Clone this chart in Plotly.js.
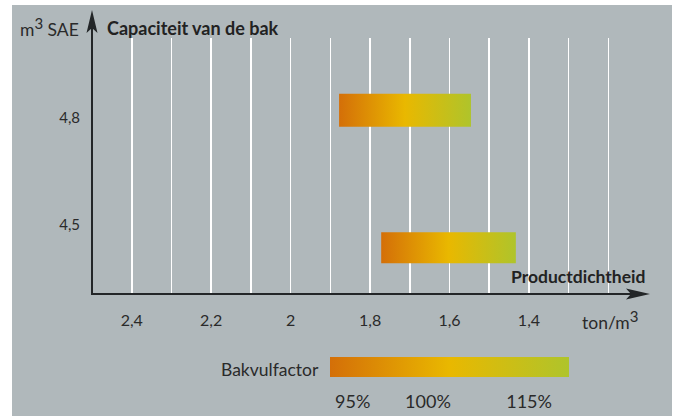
<!DOCTYPE html>
<html><head><meta charset="utf-8">
<script src="https://cdn.plot.ly/plotly-3.0.1.min.js"></script>
<style>html,body{margin:0;padding:0;background:#fff}#chart{width:678px;height:416px}</style>
</head><body><div id="chart"></div>
<script>
// ---- Data ----
const capacityTicks = [4.8, 4.5];
const capacityLabels = ['4,8', '4,5'];
const densityTicks = [2.4, 2.2, 2.0, 1.8, 1.6, 1.4];
const densityLabels = ['2,4', '2,2', '2', '1,8', '1,6', '1,4'];
const densityMinorTicks = [2.3, 2.1, 1.9, 1.7, 1.5, 1.3, 1.2];
const bucketNames = ['4,8 m³', '4,5 m³'];
const densityAt95 = [1.878, 1.772];   // left end of each bar
const densityAt115 = [1.546, 1.433];  // right end of each bar
const barYTop = [4.866, 4.480];
const barYBottom = [4.774, 4.393];
const fillLabels = ['95%', '100%', '115%'];
const fillLabelPos = [0.095, 0.41, 0.833];
const legendRange = [0, 1];

// ---- Helpers / styles ----
const W = 678, H = 416;
const px = v => v / W;
const py = v => 1 - v / H;
const FONT = 'Lato, "Open Sans", sans-serif';
const TXT = '#2a2a2a';
const AX = '#232628';
const gradient = [[0, '#d46f08'], [0.5, '#e9b800'], [1, '#afc42b']];
const SUP3 = '<sup><span style="font-size:15px">3</span></sup>';

const traces = [];
densityAt95.forEach((hi, i) => {
  const lo = densityAt115[i];
  traces.push({
    type: 'scatter', name: bucketNames[i],
    x: [hi, lo, lo, hi, hi],
    y: [barYTop[i], barYTop[i], barYBottom[i], barYBottom[i], barYTop[i]],
    mode: 'lines', line: {width: 0, color: 'rgba(0,0,0,0)'},
    fill: 'toself',
    fillgradient: {type: 'horizontal', colorscale: gradient, start: hi, stop: lo},
    hoverinfo: 'skip', showlegend: false
  });
});
// colour legend strip
traces.push({
  type: 'scatter', xaxis: 'x2', yaxis: 'y2',
  x: [legendRange[0], legendRange[1], legendRange[1], legendRange[0], legendRange[0]],
  y: [0, 0, 1, 1, 0],
  mode: 'lines', line: {width: 0, color: 'rgba(0,0,0,0)'},
  fill: 'toself',
  fillgradient: {type: 'horizontal', colorscale: gradient, start: legendRange[0], stop: legendRange[1]},
  hoverinfo: 'skip', showlegend: false
});

const layout = {
  width: W, height: H,
  margin: {l: 0, r: 0, t: 0, b: 0},
  paper_bgcolor: '#ffffff', plot_bgcolor: 'rgba(0,0,0,0)',
  font: {family: FONT, color: TXT, size: 16},
  showlegend: false,
  xaxis: {
    domain: [px(92), px(650)], range: [2.5, 1.0953], anchor: 'y',
    tickmode: 'array', tickvals: densityTicks, ticktext: densityLabels,
    showgrid: true, gridcolor: '#ffffff', gridwidth: 1.6,
    minor: {tickmode: 'array', tickvals: densityMinorTicks, showgrid: true,
            gridcolor: '#ffffff', gridwidth: 1.6, ticks: ''},
    zeroline: false, showline: false, ticks: '',
    tickfont: {family: FONT, size: 16, color: TXT}, ticklabelstandoff: 15,
    fixedrange: true
  },
  yaxis: {
    domain: [py(294), py(38)], range: [4.3074, 5.0219], anchor: 'x',
    tickmode: 'array', tickvals: capacityTicks, ticktext: capacityLabels,
    showgrid: false, zeroline: false, showline: false, ticks: '',
    tickfont: {family: FONT, size: 15, color: TXT}, ticklabelstandoff: 11,
    fixedrange: true
  },
  xaxis2: {
    domain: [px(330), px(569)], range: legendRange, anchor: 'y2',
    tickmode: 'array', tickvals: fillLabelPos, ticktext: fillLabels,
    showgrid: false, zeroline: false, showline: false, ticks: '',
    tickfont: {family: FONT, size: 18, color: TXT}, ticklabelstandoff: 12,
    fixedrange: true
  },
  yaxis2: {
    domain: [py(377), py(357)], range: [0, 1], anchor: 'x2', visible: false, fixedrange: true
  },
  shapes: [
    {type: 'rect', xref: 'paper', yref: 'paper', x0: px(12), x1: px(672), y0: 0, y1: py(5),
     fillcolor: '#b0b8bb', line: {width: 0}, layer: 'below'},
    {type: 'line', xref: 'paper', yref: 'paper', x0: px(92), x1: px(92), y0: py(295), y1: py(26),
     line: {color: AX, width: 2}},
    {type: 'line', xref: 'paper', yref: 'paper', x0: px(91), x1: px(634), y0: py(294), y1: py(294),
     line: {color: AX, width: 2}},
    {type: 'path', xref: 'paper', yref: 'paper',
     path: `M${px(92)},${py(10)} L${px(97.5)},${py(33)} L${px(92)},${py(28)} L${px(86.5)},${py(33)} Z`,
     fillcolor: AX, line: {width: 0}},
    {type: 'path', xref: 'paper', yref: 'paper',
     path: `M${px(650)},${py(294)} L${px(626)},${py(288.5)} L${px(631)},${py(294)} L${px(626)},${py(299.5)} Z`,
     fillcolor: AX, line: {width: 0}}
  ],
  annotations: [
    {text: 'm' + SUP3 + ' SAE', xref: 'paper', yref: 'paper', x: px(18), y: py(27),
     xanchor: 'left', yanchor: 'middle', showarrow: false, font: {family: FONT, size: 17.5, color: TXT}},
    {text: '<b>Capaciteit van de bak</b>', xref: 'paper', yref: 'paper', x: px(105), y: py(28),
     xanchor: 'left', yanchor: 'middle', showarrow: false, font: {family: FONT, size: 18, color: '#222'}},
    {text: '<b>Productdichtheid</b>', xref: 'paper', yref: 'paper', x: px(647), y: py(276),
     xanchor: 'right', yanchor: 'middle', showarrow: false, font: {family: FONT, size: 17.5, color: '#222'}},
    {text: 'ton/m' + SUP3, xref: 'paper', yref: 'paper', x: px(640), y: py(320),
     xanchor: 'right', yanchor: 'middle', showarrow: false, font: {family: FONT, size: 17.5, color: TXT}},
    {text: 'Bakvulfactor', xref: 'paper', yref: 'paper', x: px(321), y: py(369),
     xanchor: 'right', yanchor: 'middle', showarrow: false, font: {family: FONT, size: 17.5, color: TXT}}
  ]
};

Plotly.newPlot('chart', traces, layout, {staticPlot: true, displayModeBar: false});
</script></body></html>
